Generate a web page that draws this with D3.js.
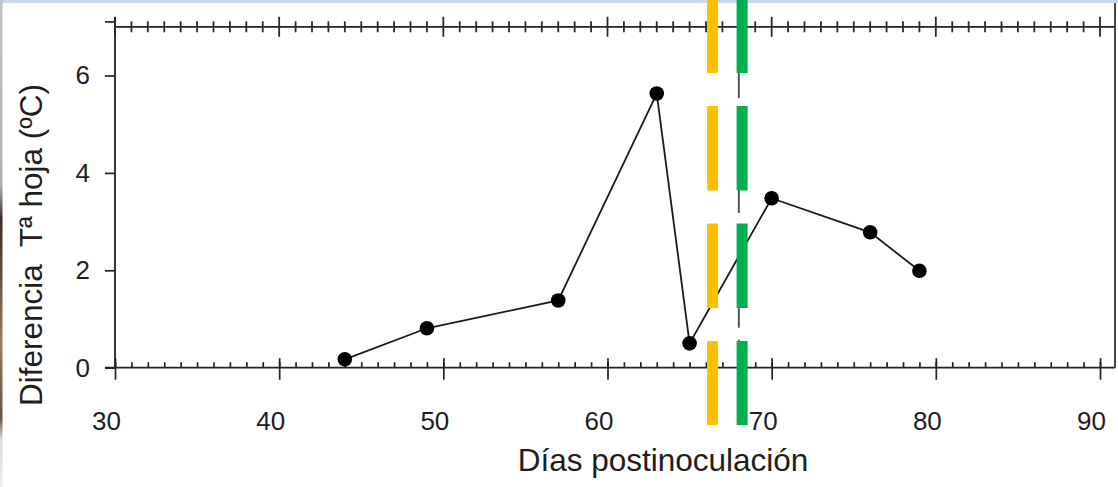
<!DOCTYPE html>
<html><head><meta charset="utf-8">
<script src="https://cdn.jsdelivr.net/npm/d3@7"></script>
<style>html,body{margin:0;padding:0;background:#fff;overflow:hidden}</style>
</head><body><svg id="c" width="1118" height="487"></svg>
<script>
const days = [44, 49, 57, 63, 65, 70, 76, 79];
const tempDiff = [0.17, 0.81, 1.38, 5.63, 0.50, 3.48, 2.78, 1.99];
const xTickLabels = [30, 40, 50, 60, 70, 80, 90];
const yTickLabels = [0, 2, 4, 6];
const markerDays = [66.4, 68.2];
const markerColors = ["#FFC000", "#00B050"];
const refDays = [68.0];
const xTitle = "Días postinoculación";
const yTitle = "Diferencia  Tª hoja (ºC)";

const W = 1118, H = 487;
const svg = d3.select("#c");
const x = d3.scaleLinear().domain([30, 90]).range([115, 1100]);
const y = d3.scaleLinear().domain([0, 6]).range([367.7, 75.5]);
const font = "'Liberation Sans', Arial, sans-serif";
const ink = "#1e1e1e";
const rightEdge = 1115;
const topVal = 7;

// screenshot edge artifacts
const defs = svg.append("defs");
const lg = defs.append("linearGradient").attr("id", "edge").attr("x1", 0).attr("y1", 0).attr("x2", 0).attr("y2", 1);
[[0, "#c4c4c4"], [0.38, "#b0b0b0"], [0.45, "#3a2a22"], [0.7, "#9c7b5a"], [0.86, "#6b5646"], [0.9, "#d8d8d8"], [1, "#eeeeee"]]
  .forEach(([o, c]) => lg.append("stop").attr("offset", o).attr("stop-color", c));
svg.append("rect").attr("x", 0).attr("y", 0).attr("width", W).attr("height", 3).attr("fill", "#cbd8ef");
svg.append("rect").attr("x", 0).attr("y", 0).attr("width", 2.5).attr("height", H).attr("fill", "url(#edge)");

const minor = d3.range(30, 91);

// bottom axis
const gB = svg.append("g").attr("transform", `translate(0,${y(0)})`);
gB.call(d3.axisBottom(x).tickValues(minor).tickSize(-5.5).tickFormat(""));
gB.select(".domain").remove();
const gBM = svg.append("g").attr("transform", `translate(0,${y(0)})`);
gBM.call(d3.axisBottom(x).tickValues(xTickLabels).tickSize(12).tickFormat(d3.format("d")));
gBM.select(".domain").remove();
gBM.selectAll(".tick line").attr("y1", -9.5);
gBM.selectAll(".tick text").attr("y", 62).attr("dy", 0).attr("dx", -9)
  .style("font-family", font).style("font-size", "26px").attr("fill", ink);
svg.selectAll("g .tick line").attr("stroke", "#222").attr("stroke-width", 1.7);
svg.append("line").attr("x1", 105).attr("x2", rightEdge).attr("y1", y(0)).attr("y2", y(0))
  .attr("stroke", "#222").attr("stroke-width", 1.8);

// left axis
const gL = svg.append("g").attr("transform", `translate(${x(30)},0)`);
gL.call(d3.axisLeft(y).tickValues(yTickLabels).tickSize(10).tickPadding(15).tickFormat(d3.format("d")));
gL.select(".domain").remove();
gL.selectAll(".tick line").attr("stroke", "#222").attr("stroke-width", 1.7);
gL.selectAll(".tick text").style("font-family", font).style("font-size", "26px").attr("fill", ink);
svg.append("line").attr("x1", x(30) - 10).attr("x2", x(30)).attr("y1", y(7.1)).attr("y2", y(7.1))
  .attr("stroke", "#222").attr("stroke-width", 1.7);
svg.append("line").attr("x1", x(30)).attr("x2", x(30)).attr("y1", y(7.1) - 5).attr("y2", y(0))
  .attr("stroke", "#222").attr("stroke-width", 1.8);

// top line with crossing ticks
svg.append("line").attr("x1", x(30)).attr("x2", rightEdge).attr("y1", y(topVal)).attr("y2", y(topVal))
  .attr("stroke", "#222").attr("stroke-width", 1.8);
svg.append("g").selectAll("line").data(minor).join("line")
  .attr("x1", d => x(d)).attr("x2", d => x(d))
  .attr("y1", d => y(topVal) - (d % 10 === 0 ? 10 : 5.5))
  .attr("y2", d => y(topVal) + (d % 10 === 0 ? 10 : 5.5))
  .attr("stroke", "#2a2a2a").attr("stroke-width", 1.8);

// right border
svg.append("line").attr("x1", rightEdge).attr("x2", rightEdge).attr("y1", 3).attr("y2", y(0))
  .attr("stroke", "#333").attr("stroke-width", 1.8);

// reference dashed gray line
svg.append("g").selectAll("line").data(refDays).join("line")
  .attr("x1", d => x(d)).attr("x2", d => x(d)).attr("y1", -4.4).attr("y2", y(0))
  .attr("stroke", "#555").attr("stroke-width", 2).attr("stroke-dasharray", "102.7,12");

// data line & points
const pts = days.map((d, i) => [d, tempDiff[i]]);
svg.append("path").datum(pts)
  .attr("d", d3.line().x(d => x(d[0])).y(d => y(d[1])))
  .attr("fill", "none").attr("stroke", "#1a1a1a").attr("stroke-width", 1.8);
svg.append("g").selectAll("circle").data(pts).join("circle")
  .attr("cx", d => x(d[0])).attr("cy", d => y(d[1])).attr("r", 7.3).attr("fill", "#000");

// coloured dashed markers
svg.append("g").selectAll("line").data(markerDays).join("line")
  .attr("x1", d => x(d)).attr("x2", d => x(d)).attr("y1", -11.5).attr("y2", 425)
  .attr("stroke", (d, i) => markerColors[i]).attr("stroke-width", 11)
  .attr("stroke-dasharray", "84.5,33");

// titles
svg.append("text").attr("x", 663).attr("y", 471).attr("text-anchor", "middle")
  .style("font-family", font).style("font-size", "31.5px").style("white-space", "pre")
  .attr("fill", ink).text(xTitle);
svg.append("text").attr("transform", "translate(42,245) rotate(-90)").attr("text-anchor", "middle")
  .style("font-family", font).style("font-size", "31.5px").style("white-space", "pre")
  .attr("fill", ink).text(yTitle);
</script></body></html>
